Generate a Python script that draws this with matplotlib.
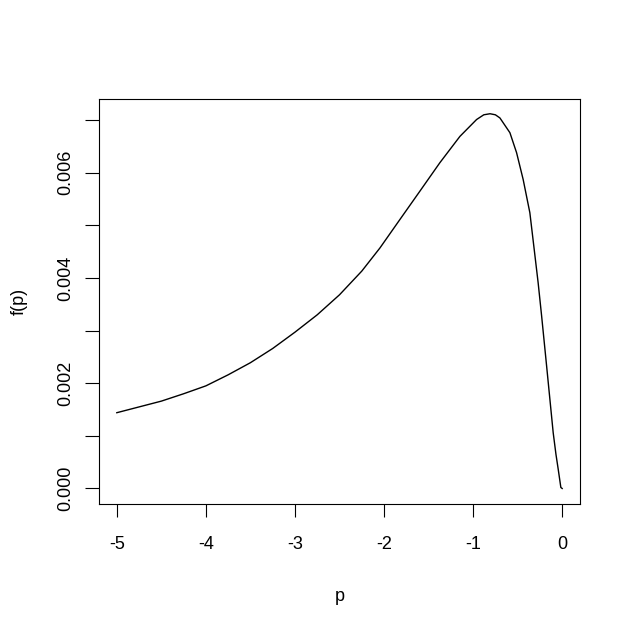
import matplotlib
matplotlib.use('Agg')
import matplotlib.pyplot as plt

# values
p = [-5.0, -4.75, -4.5, -4.25, -4.0, -3.75, -3.5, -3.25, -3.0, -2.75, -2.5,
     -2.25, -2.046, -1.822, -1.597, -1.373, -1.148, -0.961, -0.88, -0.81,
     -0.75, -0.699, -0.587, -0.512, -0.438, -0.363, -0.314, -0.27, -0.231,
     -0.175, -0.101, -0.07, -0.045, -0.015, 0.0]
f = [0.00144, 0.00155, 0.00166, 0.00180, 0.00195, 0.00216, 0.00239, 0.00266,
     0.00297, 0.00330, 0.00368, 0.00413, 0.00457, 0.00511, 0.00565, 0.00619,
     0.00669, 0.00701, 0.00710, 0.00712, 0.00710, 0.00704, 0.00676, 0.00638,
     0.00587, 0.00524, 0.00454, 0.00391, 0.00328, 0.00233, 0.00106, 0.00065,
     0.00037, 0.00002, 0.0]

xticks = [-5, -4, -3, -2, -1, 0]
yticks = [0.000, 0.001, 0.002, 0.003, 0.004, 0.005, 0.006, 0.007]
ylabels = ['0.000', '', '0.002', '', '0.004', '', '0.006', '']

plt.rcParams['font.family'] = ['Liberation Sans', 'DejaVu Sans']
fig = plt.figure(figsize=(6.28, 6.28), dpi=100)
ax = fig.add_axes([99 / 628, 1 - 503.5 / 628, 481 / 628, 404.5 / 628])
ax.plot(p, f, color='black', linewidth=1.0)

ax.set_xlim(-5.2, 0.2)
ax.set_ylim(-0.000285, 0.0074)
ax.set_xticks(xticks)
ax.set_xticklabels([str(t) for t in xticks])
ax.set_yticks(yticks)
ax.set_yticklabels(ylabels, rotation=90, va='center')

ax.tick_params(axis='x', length=9.5, width=0.8, pad=14, labelsize=13)
ax.tick_params(axis='y', length=10, width=0.8, pad=8, labelsize=13)
for s in ax.spines.values():
    s.set_linewidth(0.8)

ax.set_xlabel('p', fontsize=13, labelpad=25)
ax.set_ylabel('f(p)', fontsize=13, labelpad=21)

fig.savefig('out.png', dpi=100)
